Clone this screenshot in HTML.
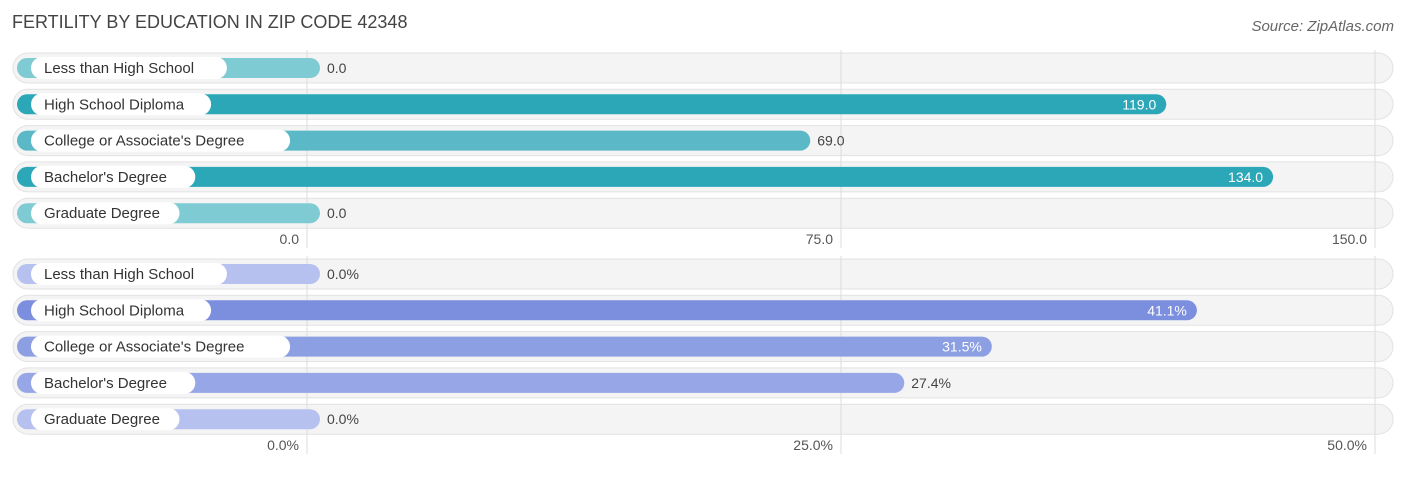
<!DOCTYPE html>
<html><head><meta charset="utf-8"><style>
body{margin:0;background:#fff;width:1406px;height:475px;overflow:hidden;font-family:"Liberation Sans",sans-serif}
</style></head><body>
<svg id="c" width="1406" height="475" xmlns="http://www.w3.org/2000/svg">
<text x="12" y="28" font-size="18" fill="#444">FERTILITY BY EDUCATION IN ZIP CODE 42348</text>
<text x="1394" y="31" font-size="15" fill="#666" font-style="italic" text-anchor="end">Source: ZipAtlas.com</text>
</svg>
<script>
const categories=["Less than High School","High School Diploma","College or Associate's Degree","Bachelor's Degree","Graduate Degree"];
const fertilityValues=[0,119,69,134,0];
const percentValues=[0,41.1,31.5,27.4,0];
const topTicks=[0,75,150];
const bottomTicks=[0,25,50];
const svg=document.getElementById('c');
const NS='http://www.w3.org/2000/svg';
function mk(t,a,p){const e=document.createElementNS(NS,t);for(const k in a)e.setAttribute(k,a[k]);(p||svg).appendChild(e);return e;}
const X0=307,X1=1375;
function panel(vals,ticks,rowY,axisY,fmt,colorFn,name){
  const max=ticks[ticks.length-1];
  const sx=v=>X0+v/max*(X1-X0);
  const g=mk('g',{});
  
  
  vals.forEach((v,i)=>{
    const cy=rowY+i*36.3;
    const bg=mk('rect',{x:13,y:cy-15,width:1380,height:30,rx:15,fill:'#f4f4f4',stroke:'#e2e2e2','stroke-width':1},g);
    
    
  });
  ticks.forEach(t=>{
    const l=mk('line',{x1:sx(t),x2:sx(t),y1:50+(rowY-68),y2:axisY+10,stroke:'#ddd','stroke-width':1},g);
    
    
    const tx=mk('text',{x:sx(t)-8,y:axisY+6,'font-size':14,fill:'#555','text-anchor':'end'},g);
    tx.textContent=fmt(t);
    
    
  });
  vals.forEach((v,i)=>{
    const cy=rowY+i*36.3;
    const end=Math.max(sx(v)+12,320);
    const col=colorFn(v,max);
    const b=mk('rect',{x:17,y:cy-10,width:end-17,height:20,rx:10,fill:col},g);
    
    
    const lbl=categories[i];
    const w=lbl.length*7.9+30;
    const p=mk('rect',{x:31,y:cy-11,width:w,height:22,rx:11,fill:'#fff'},g);
    
    
    const t=mk('text',{x:44,y:cy+5,'font-size':15,fill:'#333'},g);
    t.textContent=lbl;
    
    
    const inside=v/max>0.55;
    const vt=mk('text',{x:inside?end-10:end+7,y:cy+5,'font-size':14,fill:inside?'#fff':'#444','text-anchor':inside?'end':'start'},g);
    vt.textContent=fmt(v);
    
    
  });
}
panel(fertilityValues,topTicks,68,238,v=>v.toFixed(1),(v,m)=>{const r=v/m;return r>0.7?'#2ba7b8':r>0.3?'#5bb8c6':'#7ecbd3';},'fertility-chart');
panel(percentValues,bottomTicks,274,444,v=>v.toFixed(1)+'%',(v,m)=>{const r=v/m;return r>0.75?'#7b8fde':r>0.6?'#8d9fe3':r>0.3?'#97a6e6':'#b7c1ef';},'percent-chart');
</script>
</body></html>
